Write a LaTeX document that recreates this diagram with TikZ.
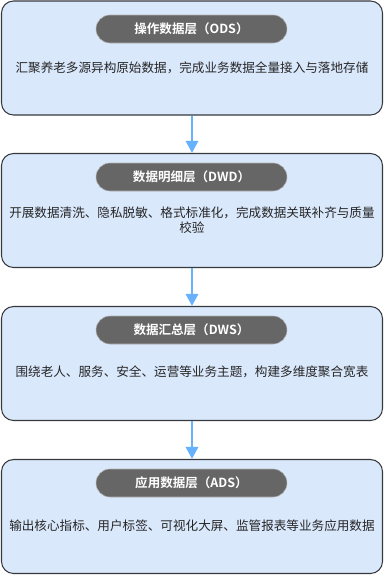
\documentclass[tikz,border=0pt]{standalone}
\usepackage{fontspec}
\setmainfont{Noto Sans CJK SC}
\newfontfamily\cjkbold{Noto Sans CJK SC Bold}
\definecolor{layerfill}{HTML}{DAE8FC}
\definecolor{layerline}{HTML}{36393D}
\definecolor{headfill}{HTML}{666666}
\definecolor{flowblue}{HTML}{66B2FF}
\usetikzlibrary{arrows.meta,positioning}

\begin{document}
\begin{tikzpicture}[x=0.75pt, y=-0.75pt,
    layerbox/.style={draw=layerline, fill=layerfill, line width=0.8pt, rounded corners=9pt,
        minimum width=381*0.75pt, minimum height=114*0.75pt, inner sep=0pt},
    headpill/.style={draw=gray!60, fill=headfill, text=white, rounded corners=10.5pt,
        minimum width=191*0.75pt, minimum height=28*0.75pt, inner sep=0pt,
        font=\cjkbold\fontsize{9.4pt}{11pt}\selectfont},
    bodytext/.style={text=black!85, align=center, text width=370*0.75pt,
        font=\fontsize{9.45pt}{11.3pt}\selectfont},
    flow/.style={draw=flowblue, line width=2.2pt, -{Triangle[length=9pt, width=9pt]}}
]
    \useasboundingbox (0,0) rectangle (384,575);

    % Layer boxes
    \node[layerbox] (ods) at (192,58) {};
    \node[layerbox] (dwd) at (192,210.5) {};
    \node[layerbox] (dws) at (192,363.5) {};
    \node[layerbox] (ads) at (192,516.5) {};

    % Headers
    \node[headpill] (odsh) at (191.5,29) {操作数据层（ODS）};
    \node[headpill] (dwdh) at (191.5,177) {数据明细层（DWD）};
    \node[headpill] (dwsh) at (191.5,330) {数据汇总层（DWS）};
    \node[headpill] (adsh) at (191.5,483) {应用数据层（ADS）};

    % Descriptions
    \node[bodytext] (odst) at (192,68) {汇聚养老多源异构原始数据，完成业务数据全量接入与落地存储};
    \node[bodytext] (dwdt) at (192,220.5) {开展数据清洗、隐私脱敏、格式标准化，完成数据关联补齐与质量\\校验};
    \node[bodytext] (dwst) at (192,372) {围绕老人、服务、安全、运营等业务主题，构建多维度聚合宽表};
    \node[bodytext] (adst) at (192,526) {输出核心指标、用户标签、可视化大屏、监管报表等业务应用数据};

    % Flow arrows
    \draw[flow] (ods.south) -- (dwd.north);
    \draw[flow] (dwd.south) -- (dws.north);
    \draw[flow] (dws.south) -- (ads.north);
\end{tikzpicture}
\end{document}
